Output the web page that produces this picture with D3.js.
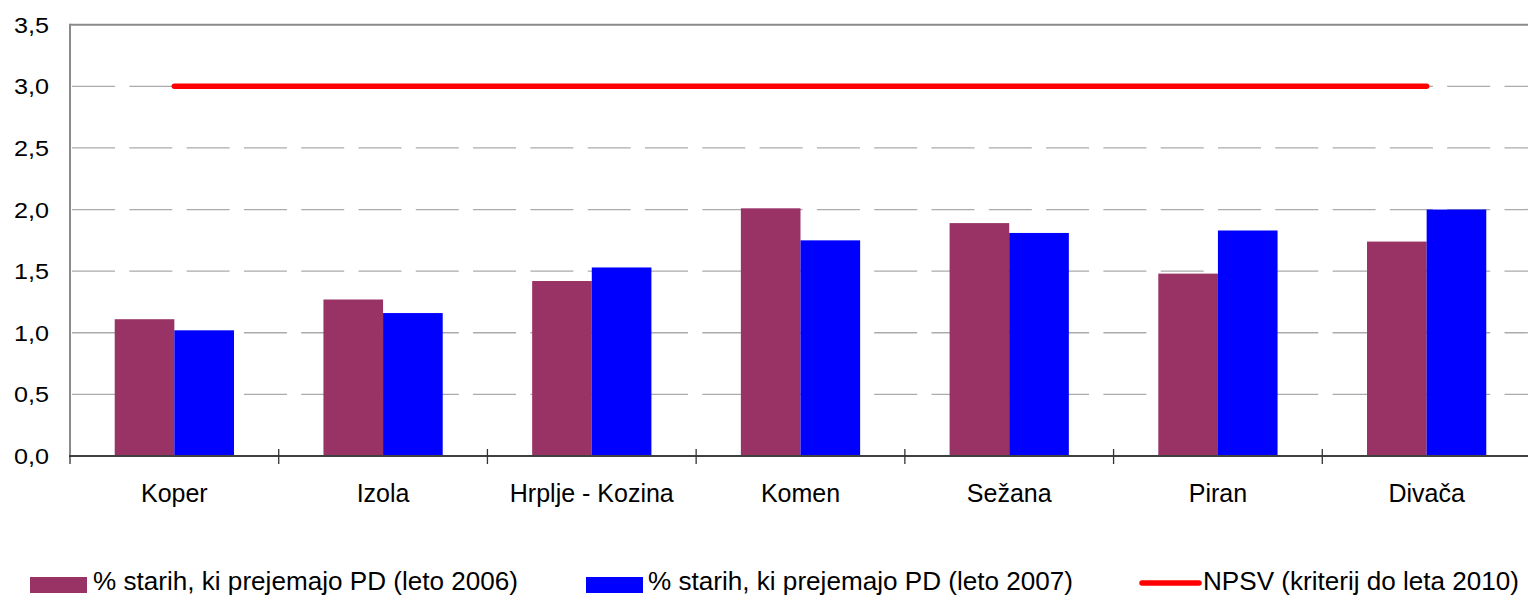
<!DOCTYPE html>
<html>
<head>
<meta charset="utf-8">
<script src="https://cdn.jsdelivr.net/npm/d3@7"></script>
<style>
  html, body { margin: 0; padding: 0; background: #fff; }
  svg { display: block; font-family: "Liberation Sans", Arial, sans-serif; }
</style>
</head>
<body>
<svg id="chart" width="1528" height="595"></svg>
<script>
const categories = ["Koper", "Izola", "Hrplje - Kozina", "Komen", "Sežana", "Piran", "Divača"];
const series2006 = [1.11, 1.27, 1.42, 2.01, 1.89, 1.48, 1.74];
const series2007 = [1.02, 1.16, 1.53, 1.75, 1.81, 1.83, 2.00];
const npsv = [3.0, 3.0, 3.0, 3.0, 3.0, 3.0, 3.0];
const yTicks = [0, 0.5, 1.0, 1.5, 2.0, 2.5, 3.0, 3.5];
const seriesNames = ["% starih, ki prejemajo PD (leto 2006)", "% starih, ki prejemajo PD (leto 2007)", "NPSV (kriterij do leta 2010)"];
const seriesKeys = ["s2006", "s2007"];
const colors = { s2006: "#993366", s2007: "#0000FF", npsv: "#FF0000" };

(function () {
const svg = d3.select("#chart");
const pLeft = 70, pRight = 1531, pTop = 24.7, pBottom = 456;

const x = d3.scaleBand().domain(categories).range([pLeft, pRight]).paddingInner(0).paddingOuter(0);
const x1 = d3.scaleBand().domain(seriesKeys).range([0, x.bandwidth()]).paddingInner(0).paddingOuter(0.75);
const y = d3.scaleLinear().domain([0, 3.5]).range([pBottom, pTop]);

const fmt = v => d3.format(".1f")(v).replace(".", ",");

// gridlines (dashed)
svg.append("g").selectAll("line")
  .data(yTicks.filter(t => t > 0 && t < 3.5))
  .join("line")
  .attr("x1", pLeft + 2).attr("x2", pRight)
  .attr("y1", d => y(d)).attr("y2", d => y(d))
  .attr("stroke", "#ababab").attr("stroke-width", 1.3)
  .attr("stroke-dasharray", "43,14.3");

// top border
svg.append("line").attr("x1", pLeft).attr("x2", pRight).attr("y1", y(3.5)).attr("y2", y(3.5))
  .attr("stroke", "#8a8a8a").attr("stroke-width", 2);
// left axis line
svg.append("line").attr("x1", pLeft).attr("x2", pLeft).attr("y1", y(3.5) - 1).attr("y2", pBottom)
  .attr("stroke", "#8a8a8a").attr("stroke-width", 2);

// y labels
svg.append("g").attr("font-size", 22).attr("fill", "#000")
  .selectAll("text").data(yTicks).join("text")
  .attr("x", 49).attr("y", d => y(d) + 8)
  .attr("text-anchor", "end")
  .attr("textLength", 35).attr("lengthAdjust", "spacingAndGlyphs")
  .text(fmt);

// bars
const rows = categories.map((c, i) => ({ cat: c, s2006: series2006[i], s2007: series2007[i] }));
svg.append("g").selectAll("g").data(rows).join("g")
  .attr("transform", d => `translate(${x(d.cat)},0)`)
  .selectAll("rect")
  .data(d => seriesKeys.map(k => ({ key: k, value: d[k] })))
  .join("rect")
  .attr("x", d => x1(d.key))
  .attr("width", x1.bandwidth())
  .attr("y", d => y(d.value))
  .attr("height", d => pBottom - y(d.value))
  .attr("fill", d => colors[d.key]);

// bottom axis
svg.append("line").attr("x1", pLeft - 1).attr("x2", pRight).attr("y1", pBottom).attr("y2", pBottom)
  .attr("stroke", "#404040").attr("stroke-width", 2);
const bounds = categories.map(c => x(c)).concat([pRight]);
svg.append("g").selectAll("line").data(bounds).join("line")
  .attr("x1", d => d).attr("x2", d => d)
  .attr("y1", (d, i) => i === 0 ? pBottom : pBottom - 7).attr("y2", pBottom + 8)
  .attr("stroke", "#333").attr("stroke-width", 1.3);

// x labels
svg.append("g").attr("font-size", 25).attr("fill", "#000")
  .selectAll("text").data(categories).join("text")
  .attr("x", d => x(d) + x.bandwidth() / 2)
  .attr("y", 502)
  .attr("text-anchor", "middle")
  .text(d => d);

// NPSV line
const line = d3.line().x((d, i) => x(categories[i]) + x.bandwidth() / 2).y(d => y(d));
svg.append("path").datum(npsv)
  .attr("d", line)
  .attr("fill", "none").attr("stroke", colors.npsv)
  .attr("stroke-width", 5.5).attr("stroke-linecap", "round");

// legend
const leg = svg.append("g").attr("font-size", 25).attr("fill", "#000");
leg.append("rect").attr("x", 30).attr("y", 577).attr("width", 57).attr("height", 16).attr("fill", colors.s2006);
leg.append("text").attr("x", 93).attr("y", 590).attr("textLength", 425).attr("lengthAdjust", "spacingAndGlyphs").text(seriesNames[0]);
leg.append("rect").attr("x", 586).attr("y", 577).attr("width", 57).attr("height", 16).attr("fill", colors.s2007);
leg.append("text").attr("x", 648).attr("y", 590).attr("textLength", 425).attr("lengthAdjust", "spacingAndGlyphs").text(seriesNames[1]);
leg.append("line").attr("x1", 1142).attr("x2", 1199).attr("y1", 583).attr("y2", 583)
  .attr("stroke", colors.npsv).attr("stroke-width", 5.5).attr("stroke-linecap", "round");
leg.append("text").attr("x", 1203).attr("y", 590).attr("textLength", 316).attr("lengthAdjust", "spacingAndGlyphs").text(seriesNames[2]);
})();
</script>
</body>
</html>
